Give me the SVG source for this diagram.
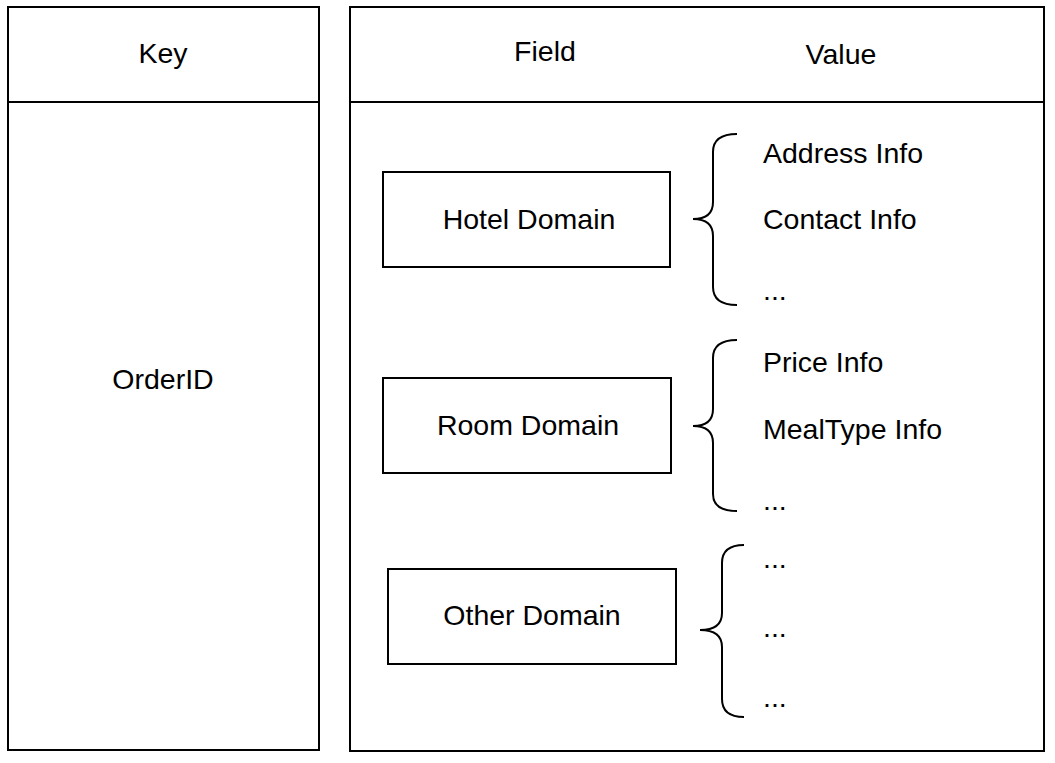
<svg xmlns="http://www.w3.org/2000/svg" width="1055" height="763" viewBox="0 0 1055 763">
<style>
  .box { fill: #ffffff; stroke: #000000; stroke-width: 2; }
  .ln { fill: none; stroke: #000000; stroke-width: 2; }
  .t { font-family: "Liberation Sans", Arial, Helvetica, sans-serif; font-size: 28.5px; fill: #000000; }
  .c { text-anchor: middle; }
</style>
<rect x="0" y="0" width="1055" height="763" fill="#ffffff"/>
<g id="key-table">
  <rect class="box" x="8" y="7" width="311" height="743"/>
  <line class="ln" x1="8" y1="102" x2="319" y2="102"/>
  <text class="t c" x="163" y="63">Key</text>
  <text class="t c" x="163" y="389">OrderID</text>
</g>
<g id="hash-table">
  <rect class="box" x="350" y="7" width="694" height="744"/>
  <line class="ln" x1="350" y1="102" x2="1044" y2="102"/>
  <text class="t c" x="545" y="61">Field</text>
  <text class="t c" x="841" y="64">Value</text>
</g>
<g id="hotel-domain">
  <rect class="box" x="383" y="172" width="287" height="95"/>
  <text class="t c" x="529" y="229">Hotel Domain</text>
</g>
<g id="room-domain">
  <rect class="box" x="383" y="378" width="288" height="95"/>
  <text class="t c" x="528" y="435">Room Domain</text>
</g>
<g id="other-domain">
  <rect class="box" x="388" y="569" width="288" height="95"/>
  <text class="t c" x="532" y="625">Other Domain</text>
</g>
<g id="connectors">
  <path class="ln" d="M737 134 Q713 134 713 152 L713 202 Q713 219 693 219 Q713 219 713 236 L713 287 Q713 305 737 305"/>
  <path class="ln" d="M737 340 Q713 340 713 358 L713 409 Q713 426 693 426 Q713 426 713 443 L713 494 Q713 511 737 511"/>
  <path class="ln" d="M744 545 Q722 545 722 563 L722 613 Q722 630 700 630 Q722 630 722 647 L722 699 Q722 717 744 717"/>
</g>
<g id="hotel-values">
  <text class="t" x="763" y="163">Address Info</text>
  <text class="t" x="763" y="229">Contact Info</text>
  <text class="t" x="763" y="300">...</text>
</g>
<g id="room-values">
  <text class="t" x="763" y="372">Price Info</text>
  <text class="t" x="763" y="439">MealType Info</text>
  <text class="t" x="763" y="510">...</text>
</g>
<g id="other-values">
  <text class="t" x="763" y="568">...</text>
  <text class="t" x="763" y="637">...</text>
  <text class="t" x="763" y="707">...</text>
</g>
</svg>
